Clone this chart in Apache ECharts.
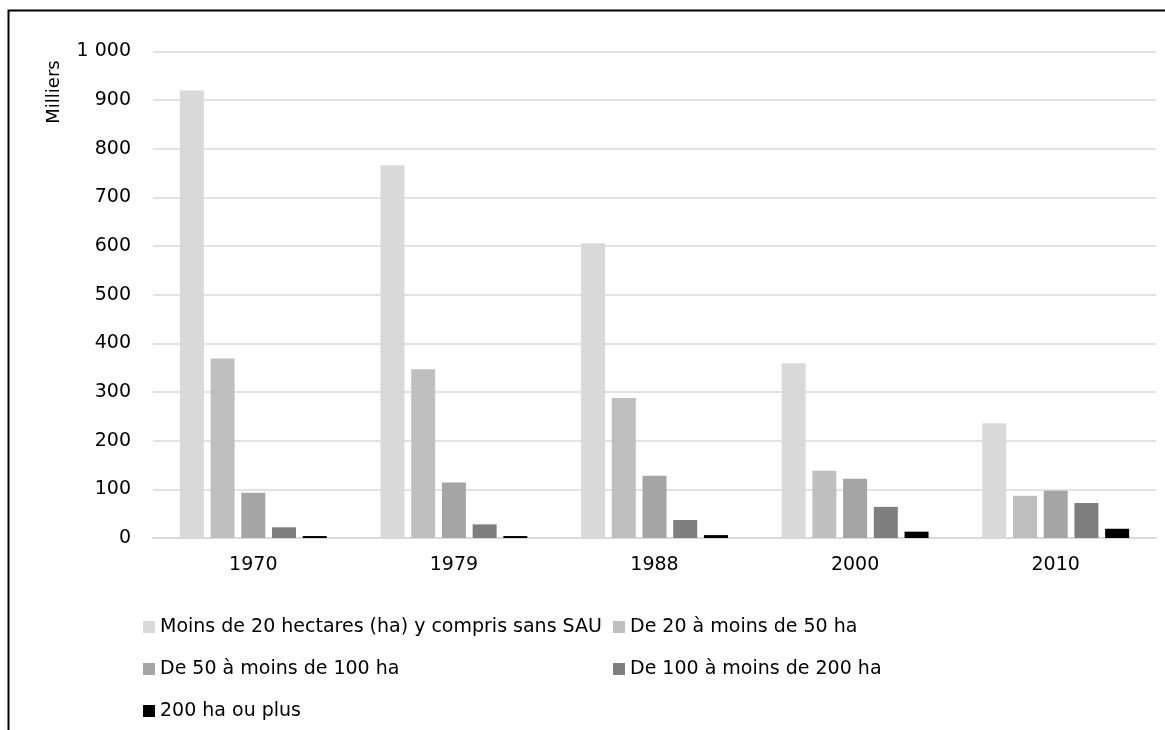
<!DOCTYPE html>
<html>
<head>
<meta charset="utf-8">
<script src="https://cdn.jsdelivr.net/npm/echarts@6/dist/echarts.min.js"></script>
<style>
  html, body { margin: 0; padding: 0; background: #fff; }
  #chart { width: 1165px; height: 730px; }
</style>
</head>
<body>
<div id="chart"></div>
<script>
const categories = ['1970', '1979', '1988', '2000', '2010'];
const seriesNames = [
  'Moins de 20 hectares (ha) y compris sans SAU',
  'De 20 à moins de 50 ha',
  'De 50 à moins de 100 ha',
  'De 100 à moins de 200 ha',
  '200 ha ou plus'
];
const moins20 = [920, 766, 606, 359, 236];
const de20a50 = [369, 347, 288, 138, 87];
const de50a100 = [93, 114, 128, 122, 97];
const de100a200 = [22, 28, 37, 64, 72];
const plus200 = [4, 4, 6, 13, 19];
const seriesValues = [moins20, de20a50, de50a100, de100a200, plus200];
const colors = ['#d9d9d9', '#bfbfbf', '#a5a5a5', '#7f7f7f', '#000000'];
const yAxisTitle = 'Milliers';

const FONT = 'DejaVu Sans';
const chart = echarts.init(document.getElementById('chart'), null, { renderer: 'canvas' });

const legendText = { fontFamily: FONT, fontSize: 19, color: '#000', lineHeight: 20 };

chart.setOption({
  animation: false,
  color: colors,
  textStyle: { fontFamily: FONT },
  grid: { left: 153, right: 9, top: 51.5, bottom: 192, containLabel: false },
  legend: [
    {
      orient: 'vertical', left: 138, top: 612, itemWidth: 12, itemHeight: 12, itemGap: 22,
      icon: 'rect', textStyle: legendText,
      data: [seriesNames[0], seriesNames[2], seriesNames[4]]
    },
    {
      orient: 'vertical', left: 608, top: 612, itemWidth: 12, itemHeight: 12, itemGap: 22,
      icon: 'rect', textStyle: legendText,
      data: [seriesNames[1], seriesNames[3]]
    }
  ],
  xAxis: {
    type: 'category',
    data: categories,
    axisLine: { show: true, lineStyle: { color: '#d9d9d9', width: 2 } },
    axisTick: { show: false },
    axisLabel: { fontFamily: FONT, fontSize: 19, color: '#000', margin: 18 },
    splitLine: { show: false }
  },
  yAxis: {
    type: 'value',
    min: 0, max: 1000, interval: 100,
    axisLine: { show: false },
    axisTick: { show: false },
    axisLabel: {
      fontFamily: FONT, fontSize: 19, color: '#000', margin: 22,
      formatter: v => String(v).replace(/\B(?=(\d{3})+(?!\d))/g, ' ')
    },
    splitLine: { show: true, lineStyle: { color: '#d9d9d9', width: 1.5 } }
  },
  graphic: [
    {
      type: 'rect', silent: true,
      shape: { x: 8.5, y: 10.5, width: 1300, height: 900 },
      style: { fill: 'none', stroke: '#000', lineWidth: 2 }
    },
    {
      type: 'text', x: 54, y: 92, rotation: Math.PI / 2,
      style: {
        text: yAxisTitle, fontFamily: FONT, fontSize: 18, fill: '#000',
        align: 'center', verticalAlign: 'middle'
      }
    }
  ],
  series: seriesNames.map((name, i) => ({
    name: name,
    type: 'bar',
    data: seriesValues[i],
    barWidth: 24,
    barGap: '28%',
    itemStyle: { color: colors[i] }
  }))
});
</script>
</body>
</html>
